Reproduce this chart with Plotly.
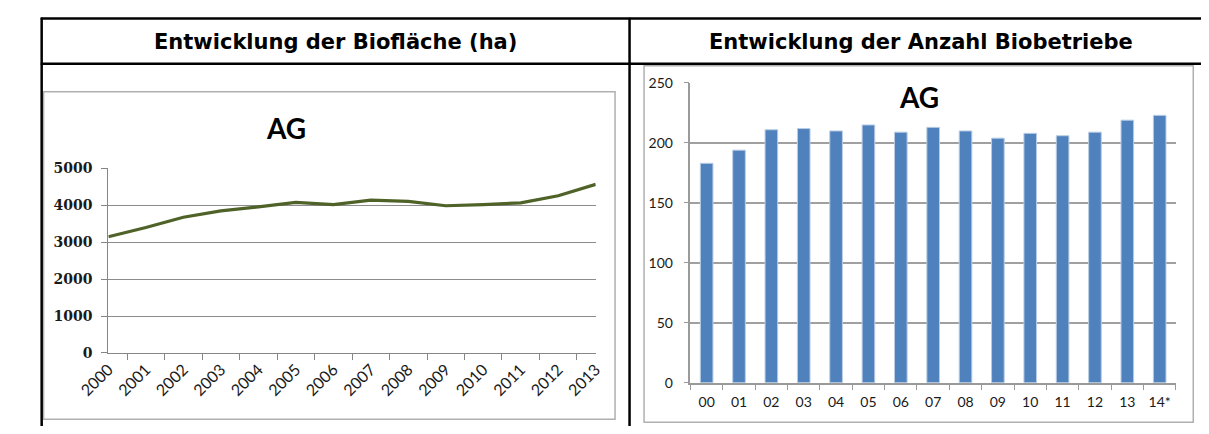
import plotly.graph_objects as go

W, H = 1209, 434

# ---- data ----
years = ["2000", "2001", "2002", "2003", "2004", "2005", "2006",
         "2007", "2008", "2009", "2010", "2011", "2012", "2013"]
area_ha = [3150, 3400, 3680, 3850, 3960, 4080, 4020,
           4140, 4110, 3990, 4020, 4070, 4260, 4570]

farm_years = ["00", "01", "02", "03", "04", "05", "06", "07",
              "08", "09", "10", "11", "12", "13", "14*"]
farms = [183, 194, 211, 212, 210, 215, 209, 213,
         210, 204, 208, 206, 209, 219, 223]

header_left = "Entwicklung der Biofläche (ha)"
header_right = "Entwicklung der Anzahl Biobetriebe"
sub_title = "AG"


def fx(px):
    return px / W


def fy(py):
    return 1 - py / H


fig = go.Figure()

fig.add_trace(go.Scatter(
    x=years, y=area_ha, mode="lines",
    line=dict(color="#4f6228", width=3.2),
    xaxis="x", yaxis="y", showlegend=False, hoverinfo="x+y"))

fig.add_trace(go.Bar(
    x=farm_years, y=farms,
    marker=dict(color="#4f81bd", line=dict(color="#b9cde5", width=1)),
    xaxis="x2", yaxis="y2", showlegend=False))

tick_font_left = dict(family="DejaVu Serif", size=14, color="#1a1a1a", weight="bold")
cat_font_left = dict(family="Lato", size=16, color="#1a1a1a")
tick_font_right = dict(family="Lato", size=14, color="#1a1a1a")

fig.update_layout(
    width=W, height=H,
    margin=dict(l=0, r=0, t=0, b=0),
    paper_bgcolor="white", plot_bgcolor="white",
    bargap=0.61,
    xaxis=dict(
        domain=[fx(79), fx(583)], anchor="y",
        type="category", tickson="boundaries",
        showgrid=False, showline=True, linecolor="#868686", linewidth=1,
        ticks="outside", ticklen=6, tickcolor="#868686",
        tickangle=-45, tickfont=cat_font_left, fixedrange=True),
    yaxis=dict(
        domain=[fy(358), fy(166)], anchor="x",
        range=[0, 5000], dtick=1000,
        showgrid=True, gridcolor="#8c8c8c", gridwidth=1,
        showline=True, linecolor="#868686", linewidth=1,
        ticks="outside", ticklen=6, tickcolor="#868686",
        tickfont=tick_font_left, zeroline=False, fixedrange=True,
        ticklabelstandoff=6),
    xaxis2=dict(
        domain=[fx(681), fx(1183)], anchor="y2",
        type="category", tickson="boundaries",
        showgrid=False, showline=True, linecolor="#9a9a9a", linewidth=1.5,
        ticks="outside", ticklen=5, tickcolor="#9a9a9a",
        tickangle=0, tickfont=tick_font_right, fixedrange=True,
        ticklabelstandoff=6),
    yaxis2=dict(
        domain=[fy(389), fy(77)], anchor="x2",
        range=[0, 250], dtick=50,
        showgrid=True, gridcolor="#a0a0a0", gridwidth=1.6,
        showline=True, linecolor="#9a9a9a", linewidth=1.5,
        ticks="outside", ticklen=5, tickcolor="#9a9a9a",
        tickfont=tick_font_right, zeroline=False, fixedrange=True,
        ticklabelstandoff=8),
)

shapes = []
# chart frames
shapes.append(dict(type="rect", xref="paper", yref="paper",
                   x0=fx(12), x1=fx(603), y0=fy(427), y1=fy(86),
                   line=dict(color="#b0b0b0", width=1.5), layer="below"))
shapes.append(dict(type="rect", xref="paper", yref="paper",
                   x0=fx(633), x1=fx(1201), y0=fy(430), y1=fy(59),
                   line=dict(color="#b0b0b0", width=1.5), layer="below"))
# table borders
black = dict(color="black", width=2.5)
shapes.append(dict(type="line", xref="paper", yref="paper",
                   x0=fx(9), x1=1.0, y0=fy(10), y1=fy(10), line=black))
shapes.append(dict(type="line", xref="paper", yref="paper",
                   x0=fx(9), x1=1.0, y0=fy(57), y1=fy(57), line=black))
shapes.append(dict(type="line", xref="paper", yref="paper",
                   x0=fx(10), x1=fx(10), y0=fy(9), y1=0.0, line=black))
shapes.append(dict(type="line", xref="paper", yref="paper",
                   x0=fx(618), x1=fx(618), y0=fy(9), y1=0.0, line=black))
fig.update_layout(shapes=shapes)

header_font = dict(family="DejaVu Sans", size=21, color="black")
fig.add_annotation(text="<b>" + header_left + "</b>", xref="paper", yref="paper",
                   x=fx(314), y=fy(34), showarrow=False, font=header_font,
                   xanchor="center", yanchor="middle")
fig.add_annotation(text="<b>" + header_right + "</b>", xref="paper", yref="paper",
                   x=fx(919), y=fy(34), showarrow=False, font=header_font,
                   xanchor="center", yanchor="middle")

ag_font = dict(family="Lato", size=28, color="black")
fig.add_annotation(text="<b>" + sub_title + "</b>", xref="paper", yref="paper",
                   x=fx(263), y=fy(124), showarrow=False, font=ag_font,
                   xanchor="center", yanchor="middle")
fig.add_annotation(text="<b>" + sub_title + "</b>", xref="paper", yref="paper",
                   x=fx(917), y=fy(92), showarrow=False, font=ag_font,
                   xanchor="center", yanchor="middle")

fig.write_html("out.html", config={"displayModeBar": False})
